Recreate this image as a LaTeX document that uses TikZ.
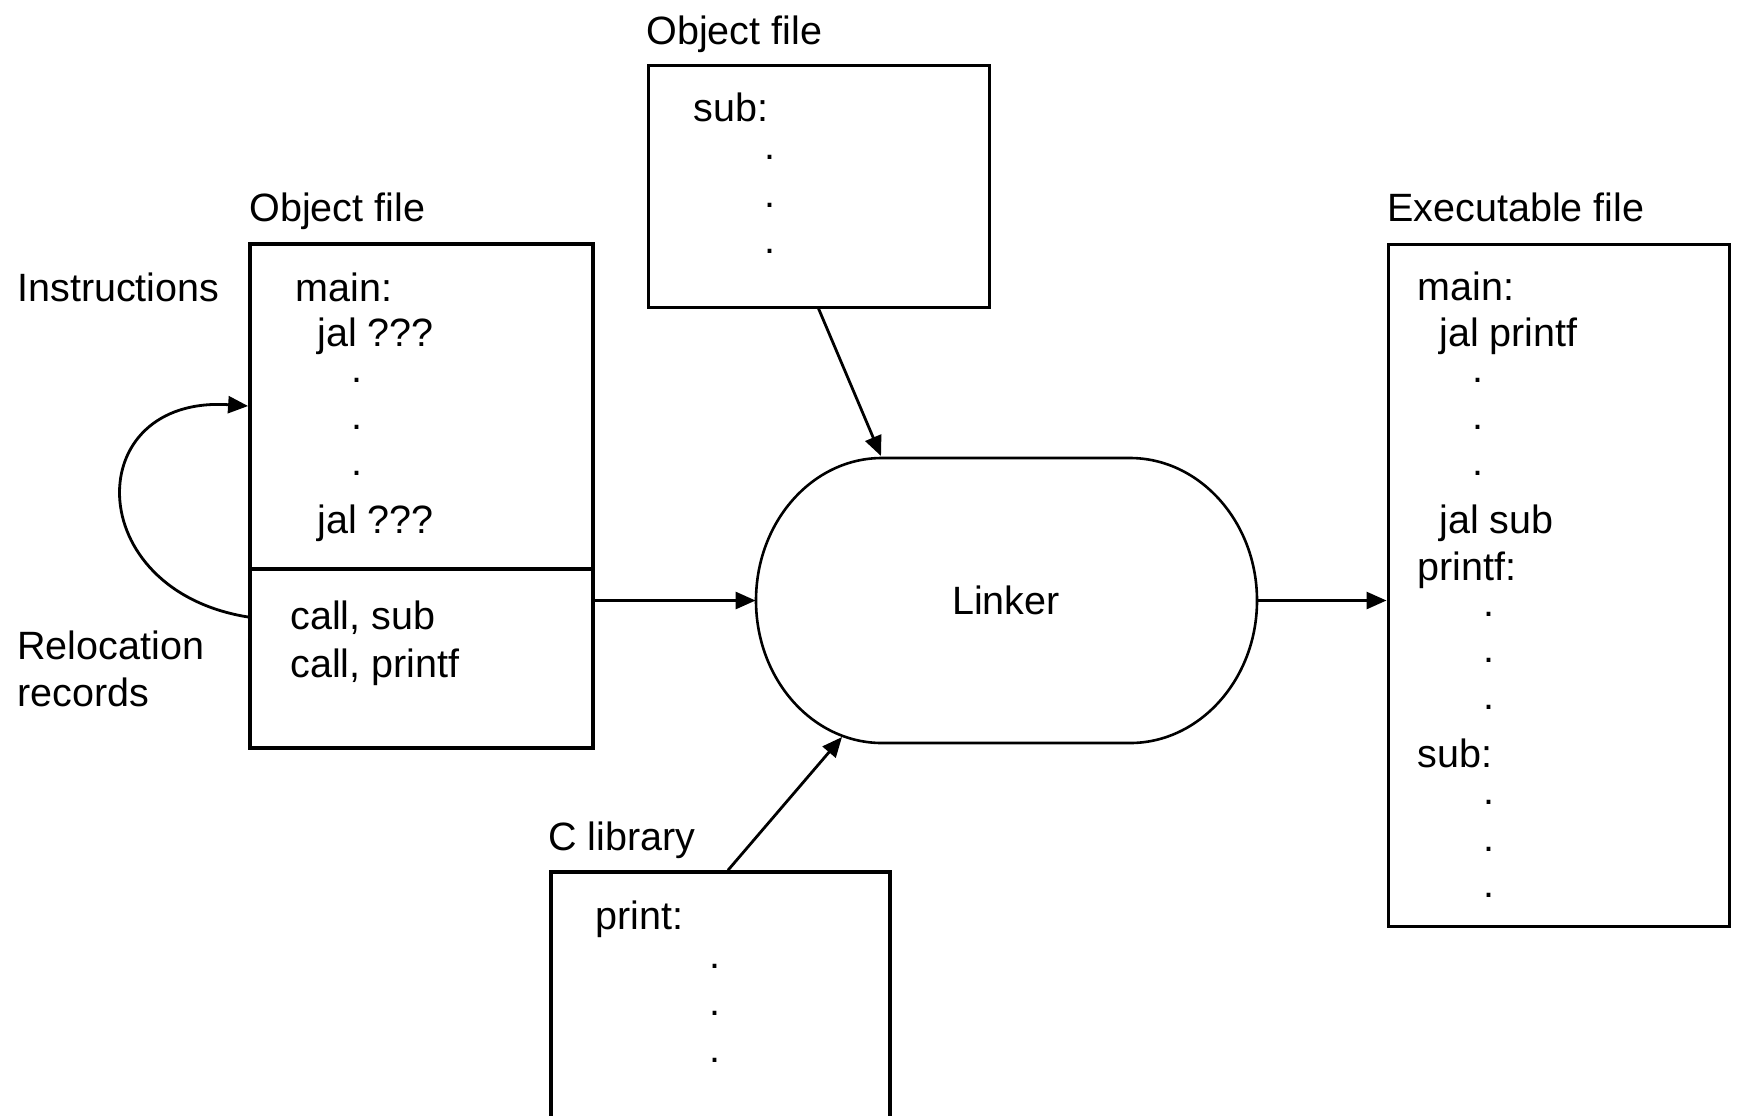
\documentclass[tikz,border=0pt]{standalone}
\usepackage{fontspec}
\setmainfont{Liberation Sans}
\usetikzlibrary{arrows.meta}
\begin{document}
\begin{tikzpicture}[x=0.5pt,y=-0.5pt,
  txt/.style={anchor=base west,inner sep=0pt,font=\fontsize{19.75}{23}\selectfont},
  dotmark/.style={anchor=base,inner sep=0pt,text height=1ex,text depth=0pt,font=\fontsize{19.75}{23}\selectfont},
  filebox/.style={draw,line width=1.5pt,inner sep=0pt},
  link/.style={line width=1.4pt,-{Triangle[length=10pt,width=8.5pt]}},
]
\useasboundingbox (0,0) rectangle (1738,1115);

% --- object file with main ---
\node[filebox,line width=1.9pt,minimum width=171.5pt,minimum height=252pt] (lbox) at (421.5,496) {};
\draw[line width=1.9pt] (lbox.west |- 0,569) -- (lbox.east |- 0,569);
\node[txt] (lobjlbl) at (249,221) {Object file};
\node[txt] (instrlbl) at (17,301) {Instructions};
\node[txt] (reloclbl) at (17,659) {Relocation};
\node[txt] (reclbl) at (17,706) {records};
\node[txt] (lmain) at (295,301) {main:};
\node[txt] (ljal1) at (317,346) {jal ???};
\node[dotmark] (ld1) at (357,382) {.};
\node[dotmark] (ld2) at (357,429) {.};
\node[dotmark] (ld3) at (357,475) {.};
\node[txt] (ljal2) at (317,533) {jal ???};
\node[txt] (lcall1) at (290,629) {call, sub};
\node[txt] (lcall2) at (290,677) {call, printf};

% --- object file with sub ---
\node[filebox,minimum width=170.5pt,minimum height=121pt] (tbox) at (818.5,186) {};
\node[txt] (tobjlbl) at (646,44) {Object file};
\node[txt] (tsub) at (693,121) {sub:};
\node[dotmark] (td1) at (770,159) {.};
\node[dotmark] (td2) at (770,207) {.};
\node[dotmark] (td3) at (770,253) {.};

% --- C library ---
\node[filebox,line width=1.8pt,minimum width=169.5pt,minimum height=126.5pt] (clib) at (720.5,998.5) {};
\node[txt] (cliblbl) at (548,850) {C library};
\node[txt] (cprint) at (595,929) {print:};
\node[dotmark] (cd1) at (715,968) {.};
\node[dotmark] (cd2) at (715,1015) {.};
\node[dotmark] (cd3) at (715,1062) {.};

% --- executable file ---
\node[filebox,minimum width=170.5pt,minimum height=341pt] (xbox) at (1558.5,585) {};
\node[txt] (xlbl) at (1387,221) {Executable file};
\node[txt] (xmain) at (1417,300) {main:};
\node[txt] (xjal1) at (1439,346) {jal printf};
\node[dotmark] (xd1) at (1478,382) {.};
\node[dotmark] (xd2) at (1478,429) {.};
\node[dotmark] (xd3) at (1478,475) {.};
\node[txt] (xjal2) at (1439,533) {jal sub};
\node[txt] (xprintf) at (1417,580) {printf:};
\node[dotmark] (xd4) at (1489,616) {.};
\node[dotmark] (xd5) at (1489,662) {.};
\node[dotmark] (xd6) at (1489,709) {.};
\node[txt] (xsub) at (1417,767) {sub:};
\node[dotmark] (xd7) at (1489,804) {.};
\node[dotmark] (xd8) at (1489,851) {.};
\node[dotmark] (xd9) at (1489,897) {.};

% --- linker (stadium with elliptic ends) ---
\node[minimum width=250pt,minimum height=142.5pt,inner sep=0pt,
      font=\fontsize{19.75}{23}\selectfont] (linker) at (1006,600.5) {Linker};
\draw[line width=1.3pt] (882,458) -- (1130,458)
  .. controls (1199.6,458) and (1257,521.8) .. (1257,600.5)
  .. controls (1257,679.2) and (1199.6,743) .. (1130,743)
  -- (882,743)
  .. controls (812.4,743) and (756,679.2) .. (756,600.5)
  .. controls (756,521.8) and (812.4,458) .. (882,458) -- cycle;
\coordinate (ltop) at (881,456);
\coordinate (lbot) at (842,737);

% --- connectors ---
\draw[link] (lbox.east |- linker.west) -- (linker.west);
\draw[link] (linker.east) -- (xbox.west |- linker.east);
\draw[link] (tbox.south) -- (ltop);
\draw[link] ([xshift=3.75pt]clib.north) -- (lbot);
\draw[link] ([yshift=-60.5pt]lbox.west) .. controls (80,590) and (80,395) .. ([yshift=45pt]lbox.west);
\end{tikzpicture}
\end{document}
